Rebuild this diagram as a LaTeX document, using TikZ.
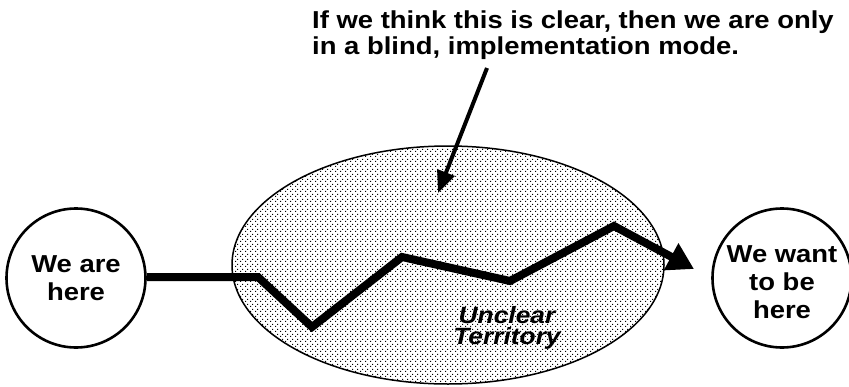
\documentclass[tikz,border=0pt]{standalone}
\usepackage{fontspec}
\newfontfamily\hv[FakeStretch=1.12]{Liberation Sans}
\usetikzlibrary{arrows.meta,shapes.geometric,patterns.meta}
\tikzdeclarepattern{
  name=stipple,
  type=uncolored,
  bounding box={(0pt,0pt) and (5pt,5pt)},
  tile size={(5pt,5pt)},
  code={
    \fill (0pt,0pt) rectangle (1.3pt,1.3pt);
    \fill (2.5pt,2.5pt) rectangle (3.8pt,3.8pt);
  }
}
\tikzset{
  place/.style={circle, draw, line width=2.6pt, minimum size=139pt, inner sep=0pt,
    align=center, font=\hv\bfseries\fontsize{24.5}{28}\selectfont},
  territory/.style={ellipse, draw, line width=1.5pt, pattern=stipple,
    minimum width=432pt, minimum height=238pt, inner sep=0pt},
  pathline/.style={line width=8pt, line join=miter, miter limit=4,
    -{Triangle[length=26pt,width=29pt]}},
  callout/.style={line width=4pt, -{Triangle[length=22pt,width=18pt]}},
  note/.style={font=\hv\bfseries\fontsize{24.5}{26}\selectfont, align=left, inner sep=0pt},
  tlabel/.style={font=\hv\bfseries\itshape\fontsize{23.5}{21.5}\selectfont, align=center, inner sep=0pt}
}
\begin{document}
\begin{tikzpicture}[x=1pt,y=-1pt]
\fill[white] (0,0) rectangle (849,386);
\useasboundingbox (0,0) rectangle (849,386);
\node[territory] (terr) at (448,265) {};
\node[tlabel] (tl) at (507,328) {Unclear\\Territory};
\node[place] (here) at (76,278) {We are\\here};
\node[place] (there) at (782,278) {\rule{0pt}{26pt}We want\\to be\\here};
\coordinate (p1) at (258,277);
\coordinate (p2) at (312,327);
\coordinate (p3) at (402,257);
\coordinate (p4) at (510,281);
\coordinate (p5) at (614,226);
\coordinate (tip) at (694,269);
\draw[pathline] (here.east |- p1) -- (p1) -- (p2) -- (p3) -- (p4) -- (p5) -- (tip);
\node[note, anchor=north west] (note) at (312,11) {If we think this is clear, then we are only\\in a blind, implementation mode.};
\coordinate (cstart) at (487,68);
\coordinate (cend) at (438,193);
\draw[callout] (cstart) -- (cend);
\end{tikzpicture}
\end{document}
